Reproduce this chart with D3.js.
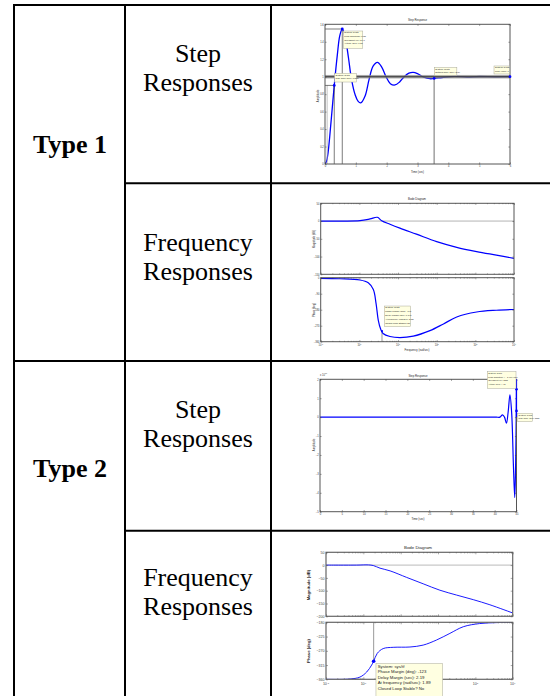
<!DOCTYPE html>
<html><head><meta charset="utf-8">
<script src="https://cdn.jsdelivr.net/npm/d3@7"></script>
<style>body{margin:0;background:#fff}svg{display:block}</style>
</head><body>
<script>
// ================= DATA =================
const rowTypes = ["Type 1", "Type 2"];
const descLines = [["Step", "Responses"], ["Frequency", "Responses"]];

// Type 1 – step response (time s, amplitude)
const step1T = [0,0.05,0.1,0.2,0.3,0.4,0.48,0.56,0.66,0.76,0.86,0.98,1.07,1.157,1.3,1.43,1.56,1.70,1.84,1.98,2.12,2.27,2.42,2.57,2.72,2.86,3.0,3.2,3.4,3.54,3.8,4.2,4.6,5.0,5.5,6.0];
const step1V = [0,0.03,0.13,0.5,0.9,1.25,1.47,1.546,1.44,1.22,0.97,0.79,0.72,0.70,0.78,0.97,1.12,1.164,1.11,1.0,0.92,0.905,0.94,1.0,1.04,1.05,1.035,0.995,0.977,0.98,0.99,1.004,0.996,1.002,0.999,1.0];
const step1XTicks = [0,1,2,3,4,5,6];
const step1YTicks = [0,0.2,0.4,0.6,0.8,1,1.2,1.4,1.6];
const step1Marks = {riseLo:0.07, riseT:0.3, riseV:0.9, peakT:0.56, peakV:1.546, settleT:3.54, settleV:0.98, finalT:6, finalV:1, band:0.02};
const step1Tips = {
  peak:   ["System: sys/tf","Peak amplitude: 1.55","Overshoot (%): 54.6","At time (sec): 0.56"],
  rise:   ["System: sys/tf","Rise Time (sec): 0.207"],
  settle: ["System: sys/tf","Settling Time (sec): 3.54"],
  final:  ["System: sys/tf","Final Value: 1"]
};

// Type 1 – Bode
const bode1MagW = [0.1,0.316,1.04,1.89,2.92,3.78,6.2,11.2,30,100,330,1080,3500,10000];
const bode1Mag  = [0,0,1,5.9,10.6,1,-9,-20,-37,-58,-74,-86,-96,-105];
const bode1PhW  = [0.1,0.316,1.04,1.7,2.3,2.7,3.1,3.55,4.1,6.2,11.2,24.8,67,150,330,1080,3500,10000];
const bode1Ph   = [-4,-6,-13,-29,-67,-144,-241,-289,-314,-331,-337,-329,-298,-260,-221,-193,-183,-179];
const bode1MagTicks = [50,0,-50,-100,-150];
const bode1PhTicks = [0,-90,-180,-270,-360];
const bode1Marker = {w:3.85, ph:-300};
const bode1Tip = ["System: sys/tf","Phase Margin (deg): -141","Delay Margin (sec): 0.146","At frequency (rad/sec): 3.85","Closed Loop Stable? No"];
const bode1XLabels = [-1,0,1,2,3,4];

// Type 2 – step response (amplitude in units of 1e16)
const step2T = [0,10,20,30,38,40.4,41.2,41.8,42.25,42.7,43.1,43.5,43.9,44.3,44.6,44.8,44.95,45];
const step2V = [0,0,0,0,0,0,0,0.12,0,-0.32,0.3,1.18,0.2,-2.6,-4.25,-2.5,0.5,2.2];
const step2XTicks = [0,5,10,15,20,25,30,35,40,45];
const step2YTicks = [-5,-4,-3,-2,-1,0,1,2];
const step2Marks = {peakT:45, peakV:1.47, riseT:45, riseV:0.33};
const step2Tips = {
  peak: ["System: sys/tf","Peak amplitude >= 1.46e+016","Overshoot (%): NaN","At time (sec) > 45"],
  rise: ["System: sys/tf","Rise Time (sec): NaN"]
};

// Type 2 – Bode
const bode2MagW = [0.1,0.66,1.37,1.85,2.8,5.2,14.4,40,112,313,880,2450,10000];
const bode2Mag  = [0,0,0.8,-1.8,-12,-22.5,-48,-73,-98,-117,-135,-155,-187];
const bode2PhW  = [0.1,0.44,0.81,1.23,1.67,1.89,2.36,3.4,6.3,17.7,40,91,208,475,1300,3700,10000];
const bode2Ph   = [-360,-359,-353,-337,-315,-303,-278,-263,-259,-258,-252,-236,-215,-194,-184,-181,-180];
const bode2MagTicks = [50,0,-50,-100,-150,-200];
const bode2PhTicks = [-180,-225,-270,-315,-360];
const bode2Marker = {w:1.89, ph:-303};
const bode2Tip = ["System: sys/tf","Phase Margin (deg): -123","Delay Margin (sec): 2.19","At frequency (rad/sec): 1.89","Closed Loop Stable? No"];
const bode2XLabels = [-1,0,3,4];   // 10^1 and 10^2 are hidden under the data tip

const decades = [-1,0,1,2,3,4];

// ================= DRAW =================
const W = 550, H = 696;
const SANS = "'Liberation Sans', Arial, Helvetica, sans-serif";
const SERIF = "'Liberation Serif', 'Times New Roman', serif";
const svg = d3.select("body").append("svg").attr("width", W).attr("height", H);
const defs = svg.append("defs");

// ---------- table ----------
const tbl = svg.append("g").attr("stroke", "#000").attr("stroke-width", 2);
[[13,5,550,5],[14,4,14,H],[125,4,125,H],[271,4,271,H],[124,183.3,550,183.3],[13,361,550,361],[124,530.8,550,530.8]]
  .forEach(l => tbl.append("line").attr("x1",l[0]).attr("y1",l[1]).attr("x2",l[2]).attr("y2",l[3]));

const typeBase = [153, 477];
rowTypes.forEach((t, i) => svg.append("text").attr("x", 70).attr("y", typeBase[i])
  .attr("text-anchor","middle").attr("font-family",SERIF).attr("font-weight","bold").attr("font-size",26).text(t));
const descBase = [[62,91],[251,280],[418,447],[586,615]];
descBase.forEach((b, i) => {
  const lines = descLines[i % 2];
  lines.forEach((s, j) => svg.append("text").attr("x", 198).attr("y", b[j])
    .attr("text-anchor","middle").attr("font-family",SERIF).attr("font-size",26).text(s));
});

// ---------- helpers ----------
let clipId = 0;
function clipFor(g, x, y) {
  const id = "clip" + (clipId++);
  const [x0,x1] = x.range(), [y0,y1] = y.range();
  defs.append("clipPath").attr("id", id).append("rect").attr("x", x0).attr("y", y1).attr("width", x1-x0).attr("height", y0-y1);
  return "url(#" + id + ")";
}
function styleAxis(sel, o) {
  sel.select(".domain").remove();
  sel.selectAll("line").attr("stroke", o.tickColor).attr("stroke-width", o.tw);
  sel.selectAll("text").attr("font-size", o.fs).attr("font-family", SANS).attr("fill", o.tc);
}
function frame(g, x, y, o) {
  const [x0,x1] = x.range(), [y0,y1] = y.range();
  g.append("rect").attr("x",x0).attr("y",y1).attr("width",x1-x0).attr("height",y0-y1)
    .attr("fill","none").attr("stroke",o.frameColor).attr("stroke-width",o.fw);
}
function yAxes(g, x, y, ticks, o, fmt) {
  const [x0,x1] = x.range();
  g.append("g").attr("transform",`translate(${x0},0)`)
    .call(d3.axisLeft(y).tickValues(ticks).tickSizeInner(-o.tl).tickSizeOuter(0).tickPadding(o.pad).tickFormat(fmt))
    .call(s => styleAxis(s, o));
  g.append("g").attr("transform",`translate(${x1},0)`)
    .call(d3.axisRight(y).tickValues(ticks).tickSizeInner(-o.tl).tickSizeOuter(0).tickFormat(""))
    .call(s => styleAxis(s, o));
}
function xAxesLin(g, x, y, ticks, o, fmt) {
  const [y0,y1] = y.range();
  g.append("g").attr("transform",`translate(0,${y0})`)
    .call(d3.axisBottom(x).tickValues(ticks).tickSizeInner(-o.tl).tickSizeOuter(0).tickPadding(o.pad).tickFormat(fmt))
    .call(s => styleAxis(s, o));
  g.append("g").attr("transform",`translate(0,${y1})`)
    .call(d3.axisTop(x).tickValues(ticks).tickSizeInner(-o.tl).tickSizeOuter(0).tickFormat(""))
    .call(s => styleAxis(s, o));
}
function xAxesLog(g, x, y, o, labels) {
  const [y0,y1] = y.range();
  const major = decades.map(d => Math.pow(10, d));
  const minor = [];
  decades.slice(0, -1).forEach(d => { for (let k = 2; k <= 9; k++) minor.push(k * Math.pow(10, d)); });
  [[d3.axisBottom, y0],[d3.axisTop, y1]].forEach(([ax, yy]) => {
    g.append("g").attr("transform",`translate(0,${yy})`)
      .call(ax(x).tickValues(major).tickSizeInner(-o.tl).tickSizeOuter(0).tickFormat(""))
      .call(s => styleAxis(s, o));
    g.append("g").attr("transform",`translate(0,${yy})`)
      .call(ax(x).tickValues(minor).tickSizeInner(-o.tl * 0.55).tickSizeOuter(0).tickFormat(""))
      .call(s => styleAxis(s, o));
  });
  if (labels) {
    labels.forEach(d => {
      const t = g.append("text").attr("x", x(Math.pow(10, d))).attr("y", y0 + o.labOff)
        .attr("text-anchor","middle").attr("font-family",SANS).attr("font-size",o.fs).attr("fill",o.tc);
      t.append("tspan").text("10");
      t.append("tspan").attr("dy", -o.fs*0.45).attr("font-size", o.fs*0.7).text(d);
    });
  }
}
function label(g, x, y, txt, fs, rot, weight) {
  const t = g.append("text").attr("x",x).attr("y",y).attr("text-anchor","middle")
    .attr("font-family",SANS).attr("font-size",fs).attr("fill","#222").text(txt);
  if (weight) t.attr("font-weight", weight);
  if (rot) t.attr("transform",`rotate(-90,${x},${y})`);
  return t;
}
function dataTip(g, px, py, dx, dy, w, h, lines, fs, lh) {
  const gg = g.append("g");
  gg.append("rect").attr("x",px+dx).attr("y",py+dy).attr("width",w).attr("height",h)
    .attr("fill","#ffffe1").attr("stroke","#a9a99a").attr("stroke-width",0.5);
  lines.forEach((s, i) => gg.append("text").attr("x", px+dx+fs*0.4).attr("y", py+dy+fs*1.05+i*lh)
    .attr("font-family",SANS).attr("font-size",fs).attr("fill","#222").text(s));
}
function dot(g, cx, cy, r) {
  g.append("circle").attr("cx",cx).attr("cy",cy).attr("r",r).attr("fill","#0000ff");
}
const zip = (a, b) => a.map((v, i) => [v, b[i]]);

// ---------- Chart 1: Type 1 step ----------
{
  const g = svg.append("g");
  const x = d3.scaleLinear().domain([0, 6]).range([325, 510]);
  const y = d3.scaleLinear().domain([0, 1.6]).range([164, 24.3]);
  const o = {tl:1.6, pad:1.2, fs:2.6, tc:"#333", tickColor:"#444", tw:0.5, frameColor:"#555", fw:1};
  const m = step1Marks;
  const cp = clipFor(g, x, y);
  const line = d3.line().x(d => x(d[0])).y(d => y(d[1])).curve(d3.curveCatmullRom.alpha(0.5));
  g.append("path").attr("d", line(zip(step1T, step1V))).attr("fill","none").attr("stroke","#0000ff").attr("stroke-width",1.3).attr("clip-path",cp);
  g.append("rect").attr("x", x(0)).attr("width", x(6)-x(0)).attr("y", y(m.finalV + m.band)).attr("height", y(m.finalV - m.band) - y(m.finalV + m.band))
    .attr("fill","#8a8a8a").attr("opacity",0.75);
  g.append("line").attr("x1",x(0)).attr("x2",x(6)).attr("y1",y(m.finalV)).attr("y2",y(m.finalV)).attr("stroke","#333").attr("stroke-width",1.1);
  g.append("line").attr("x1",x(m.settleT)).attr("x2",x(m.settleT)).attr("y1",y(0)).attr("y2",y(m.settleV)).attr("stroke","#999").attr("stroke-width",1.4);
  g.append("line").attr("x1",x(m.riseLo)).attr("x2",x(m.riseLo)).attr("y1",y(0)).attr("y2",y(m.riseV)).attr("stroke","#aaa").attr("stroke-width",0.7);
  g.append("line").attr("x1",x(m.riseT)).attr("x2",x(m.riseT)).attr("y1",y(0)).attr("y2",y(m.riseV)).attr("stroke","#222").attr("stroke-width",0.6);
  g.append("line").attr("x1",x(0)).attr("x2",x(m.riseT)).attr("y1",y(m.riseV)).attr("y2",y(m.riseV)).attr("stroke","#222").attr("stroke-width",0.6);
  g.append("line").attr("x1",x(m.peakT)).attr("x2",x(m.peakT)).attr("y1",y(0)).attr("y2",y(m.peakV)).attr("stroke","#222").attr("stroke-width",0.6);
  g.append("line").attr("x1",x(0)).attr("x2",x(m.peakT)).attr("y1",y(m.peakV)).attr("y2",y(m.peakV)).attr("stroke","#222").attr("stroke-width",0.6);
  frame(g, x, y, o);
  yAxes(g, x, y, step1YTicks, o, d3.format("~g"));
  xAxesLin(g, x, y, step1XTicks, o, d3.format("d"));
  label(g, 417.5, 21.3, "Step Response", 2.8);
  label(g, 417.5, 172.5, "Time (sec)", 2.8);
  label(g, 319, 96, "Amplitude", 2.8, true);
  dot(g, x(m.peakT), y(m.peakV), 1.4);
  dot(g, x(m.riseT), y(m.riseV), 1.4);
  dot(g, x(m.settleT), y(m.settleV), 1.4);
  dot(g, x(m.finalT), y(m.finalV), 1.4);
  dataTip(g, x(m.peakT), y(m.peakV), 1, 2, 19.5, 17.3, step1Tips.peak, 2.3, 3.6);
  dataTip(g, x(m.riseT), y(m.riseV), 0.3, -12.1, 21.7, 8.7, step1Tips.rise, 2.3, 3.6);
  dataTip(g, x(m.settleT), y(m.settleV), 0.2, -11.1, 22.5, 8, step1Tips.settle, 2.3, 3.6);
  dataTip(g, x(m.finalT), y(m.finalV), -16, -10.7, 15.3, 8, step1Tips.final, 2.3, 3.6);
}

// ---------- Chart 2: Type 1 Bode ----------
{
  const g = svg.append("g");
  const x = d3.scaleLog().domain([0.1, 1e4]).range([320.7, 514]);
  const ym = d3.scaleLinear().domain([-150, 50]).range([274.3, 203.3]);
  const yp = d3.scaleLinear().domain([-360, 0]).range([341.7, 277.7]);
  const o = {tl:1.6, pad:1.2, fs:2.6, tc:"#333", tickColor:"#444", tw:0.5, frameColor:"#555", fw:1, labOff:4};
  const line = (ys) => d3.line().x(d => x(d[0])).y(d => ys(d[1])).curve(d3.curveCatmullRom.alpha(0.5));
  g.append("line").attr("x1",x(0.1)).attr("x2",x(1e4)).attr("y1",ym(0)).attr("y2",ym(0)).attr("stroke","#aaa").attr("stroke-width",0.9);
  g.append("path").attr("d", line(ym)(zip(bode1MagW, bode1Mag))).attr("fill","none").attr("stroke","#0000ff").attr("stroke-width",1.2).attr("clip-path",clipFor(g,x,ym));
  g.append("line").attr("x1",x(bode1Marker.w)).attr("x2",x(bode1Marker.w)).attr("y1",yp(-360)).attr("y2",yp(bode1Marker.ph)).attr("stroke","#999").attr("stroke-width",1);
  g.append("path").attr("d", line(yp)(zip(bode1PhW, bode1Ph))).attr("fill","none").attr("stroke","#0000ff").attr("stroke-width",1.2).attr("clip-path",clipFor(g,x,yp));
  frame(g, x, ym, o); frame(g, x, yp, o);
  yAxes(g, x, ym, bode1MagTicks, o, d3.format("d"));
  yAxes(g, x, yp, bode1PhTicks, o, d3.format("d"));
  xAxesLog(g, x, ym, o, null);
  xAxesLog(g, x, yp, o, bode1XLabels);
  label(g, 417, 200, "Bode Diagram", 2.8);
  label(g, 417, 350.5, "Frequency (rad/sec)", 2.8);
  label(g, 314.5, 239, "Magnitude (dB)", 2.6, true);
  label(g, 314.5, 310, "Phase (deg)", 2.6, true);
  dot(g, x(bode1Marker.w), yp(bode1Marker.ph), 1.1);
  dataTip(g, x(bode1Marker.w), yp(bode1Marker.ph), 2.3, -25, 26.4, 20.7, bode1Tip, 2.3, 3.8);
}

// ---------- Chart 3: Type 2 step ----------
{
  const g = svg.append("g");
  const x = d3.scaleLinear().domain([0, 45]).range([320, 516.5]);
  const y = d3.scaleLinear().domain([-5, 2]).range([511.7, 379.3]);
  const o = {tl:1.6, pad:1.2, fs:2.6, tc:"#333", tickColor:"#444", tw:0.5, frameColor:"#555", fw:1};
  const line = d3.line().x(d => x(d[0])).y(d => y(d[1])).curve(d3.curveCatmullRom.alpha(0.5));
  g.append("path").attr("d", line(zip(step2T, step2V))).attr("fill","none").attr("stroke","#0000ff").attr("stroke-width",1.2).attr("clip-path",clipFor(g,x,y));
  frame(g, x, y, o);
  yAxes(g, x, y, step2YTicks, o, d3.format("d"));
  xAxesLin(g, x, y, step2XTicks, o, d3.format("d"));
  label(g, 418, 376.8, "Step Response", 2.8);
  label(g, 418, 519.8, "Time (sec)", 2.8);
  label(g, 315, 445, "Amplitude", 2.8, true);
  const ex = g.append("text").attr("x", 320).attr("y", 375.5).attr("font-family",SANS).attr("font-size",2.6).attr("fill","#333");
  ex.append("tspan").text("x 10");
  ex.append("tspan").attr("dy",-1.1).attr("font-size",1.9).text("16");
  const m = step2Marks;
  g.append("line").attr("x1",x(45)).attr("x2",x(45)).attr("y1",y(0)).attr("y2",y(2)).attr("stroke","#0000ff").attr("stroke-width",1.2);
  dot(g, x(m.peakT), y(m.peakV), 1.3);
  dot(g, x(m.riseT), y(m.riseV), 1.3);
  dataTip(g, x(m.peakT), y(m.peakV), -29.2, -17.6, 28.7, 16.6, step2Tips.peak, 2.2, 3.7);
  dataTip(g, x(m.riseT), y(m.riseV), 1.2, 2.4, 14.6, 8.4, step2Tips.rise, 2.2, 3.6);
}

// ---------- Chart 4: Type 2 Bode ----------
{
  const g = svg.append("g");
  const x = d3.scaleLog().domain([0.1, 1e4]).range([326, 512.7]);
  const ym = d3.scaleLinear().domain([-200, 50]).range([616.3, 552.3]);
  const yp = d3.scaleLinear().domain([-360, -180]).range([679.3, 622.3]);
  const o = {tl:2, pad:1.4, fs:3.6, tc:"#444", tickColor:"#555", tw:0.5, frameColor:"#666", fw:1.2, labOff:6};
  const line = (ys) => d3.line().x(d => x(d[0])).y(d => ys(d[1])).curve(d3.curveCatmullRom.alpha(0.5));
  g.append("line").attr("x1",x(0.1)).attr("x2",x(1e4)).attr("y1",ym(0)).attr("y2",ym(0)).attr("stroke","#bbb").attr("stroke-width",1);
  g.append("path").attr("d", line(ym)(zip(bode2MagW, bode2Mag))).attr("fill","none").attr("stroke","#0000ff").attr("stroke-width",0.9).attr("clip-path",clipFor(g,x,ym));
  g.append("line").attr("x1",x(bode2Marker.w)).attr("x2",x(bode2Marker.w)).attr("y1",yp(-180)).attr("y2",yp(bode2Marker.ph)).attr("stroke","#999").attr("stroke-width",1);
  g.append("path").attr("d", line(yp)(zip(bode2PhW, bode2Ph))).attr("fill","none").attr("stroke","#0000ff").attr("stroke-width",0.9).attr("clip-path",clipFor(g,x,yp));
  frame(g, x, ym, o); frame(g, x, yp, o);
  yAxes(g, x, ym, bode2MagTicks, o, d3.format("d"));
  yAxes(g, x, yp, bode2PhTicks, o, d3.format("d"));
  xAxesLog(g, x, ym, o, null);
  xAxesLog(g, x, yp, o, bode2XLabels);
  label(g, 418, 548.5, "Bode Diagram", 4.4);
  label(g, 309.5, 585, "Magnitude (dB)", 4.2, true, "bold");
  label(g, 309.5, 651, "Phase (deg)", 4.2, true, "bold");
  dot(g, x(bode2Marker.w), yp(bode2Marker.ph), 1.8);
  dataTip(g, x(bode2Marker.w), yp(bode2Marker.ph), 2.3, 2.3, 66.7, 36, bode2Tip, 4.3, 5.4);
}
</script>
</body></html>
